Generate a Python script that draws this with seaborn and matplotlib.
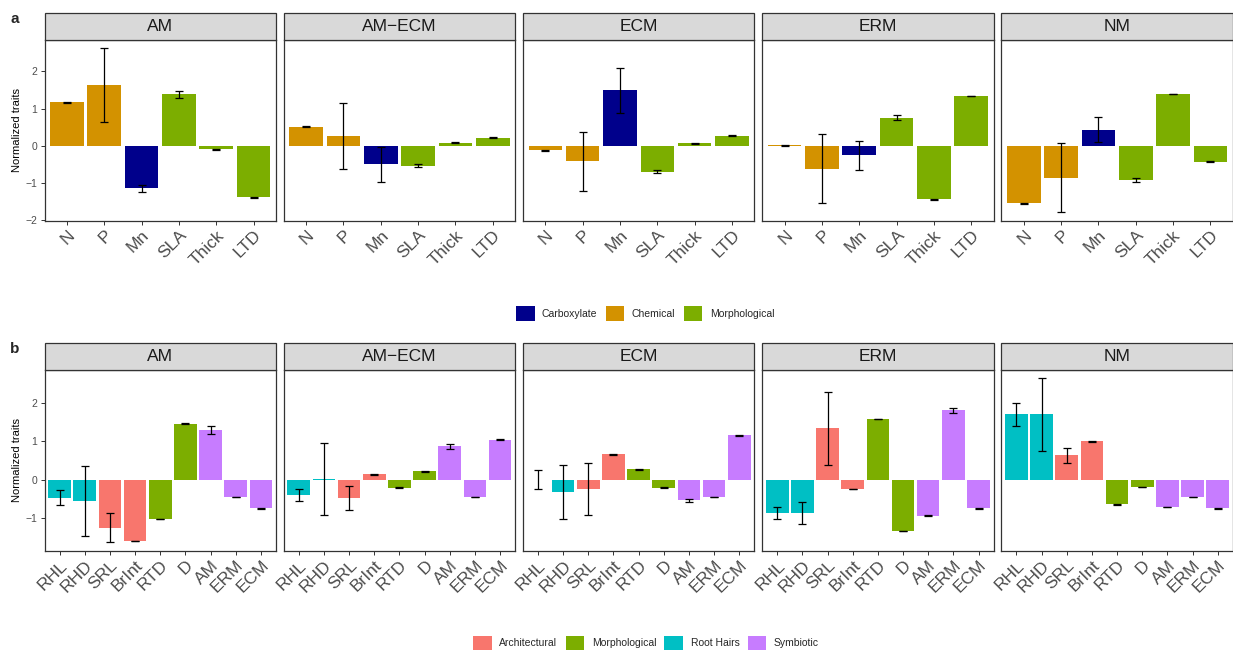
import numpy as np
import pandas as pd
import matplotlib
matplotlib.use("Agg")
import matplotlib.pyplot as plt
import seaborn as sns
from matplotlib.patches import Rectangle, Patch

# ---------------- data ----------------
panels = ["AM", "AM\u2212ECM", "ECM", "ERM", "NM"]

leaf_traits = ["N", "P", "Mn", "SLA", "Thick", "LTD"]
leaf_groups = ["Chemical", "Chemical", "Carboxylate", "Morphological", "Morphological", "Morphological"]
leaf_group_order = ["Carboxylate", "Chemical", "Morphological"]
leaf_colors = ["#00008B", "#D39200", "#7CAE00"]

leaf_AM = [1.17, 1.63, -1.14, 1.38, -0.09, -1.38]
leaf_AM_err = [0.01, 0.99, 0.09, 0.10, 0.01, 0.01]
leaf_AMECM = [0.51, 0.27, -0.50, -0.53, 0.08, 0.22]
leaf_AMECM_err = [0.01, 0.88, 0.47, 0.05, 0.01, 0.01]
leaf_ECM = [-0.12, -0.42, 1.49, -0.70, 0.07, 0.27]
leaf_ECM_err = [0.01, 0.80, 0.60, 0.04, 0.01, 0.01]
leaf_ERM = [0.01, -0.61, -0.26, 0.75, -1.44, 1.34]
leaf_ERM_err = [0.01, 0.92, 0.39, 0.07, 0.01, 0.01]
leaf_NM = [-1.54, -0.86, 0.43, -0.91, 1.39, -0.43]
leaf_NM_err = [0.01, 0.93, 0.34, 0.05, 0.01, 0.01]

root_traits = ["RHL", "RHD", "SRL", "BrInt", "RTD", "D", "AM", "ERM", "ECM"]
root_groups = ["Root Hairs", "Root Hairs", "Architectural", "Architectural", "Morphological",
               "Morphological", "Symbiotic", "Symbiotic", "Symbiotic"]
root_group_order = ["Architectural", "Morphological", "Root Hairs", "Symbiotic"]
root_colors = ["#F8766D", "#7CAE00", "#00BFC4", "#C77CFF"]

root_AM = [-0.47, -0.55, -1.25, -1.59, -1.02, 1.45, 1.28, -0.45, -0.74]
root_AM_err = [0.19, 0.90, 0.38, 0.01, 0.01, 0.01, 0.10, 0.01, 0.01]
root_AMECM = [-0.40, 0.01, -0.47, 0.14, -0.21, 0.22, 0.86, -0.45, 1.04]
root_AMECM_err = [0.15, 0.94, 0.31, 0.01, 0.01, 0.01, 0.07, 0.01, 0.01]
root_ECM = [0.00, -0.33, -0.24, 0.66, 0.27, -0.21, -0.53, -0.45, 1.15]
root_ECM_err = [0.24, 0.70, 0.67, 0.01, 0.01, 0.01, 0.04, 0.01, 0.01]
root_ERM = [-0.86, -0.86, 1.33, -0.24, 1.57, -1.33, -0.94, 1.80, -0.74]
root_ERM_err = [0.16, 0.28, 0.95, 0.01, 0.01, 0.01, 0.01, 0.07, 0.01]
root_NM = [1.69, 1.69, 0.63, 0.99, -0.64, -0.19, -0.71, -0.45, -0.74]
root_NM_err = [0.29, 0.94, 0.20, 0.01, 0.01, 0.01, 0.01, 0.01, 0.01]

leaf_vals = [leaf_AM, leaf_AMECM, leaf_ECM, leaf_ERM, leaf_NM]
leaf_errs = [leaf_AM_err, leaf_AMECM_err, leaf_ECM_err, leaf_ERM_err, leaf_NM_err]
root_vals = [root_AM, root_AMECM, root_ECM, root_ERM, root_NM]
root_errs = [root_AM_err, root_AMECM_err, root_ECM_err, root_ERM_err, root_NM_err]

# ---------------- style ----------------
sns.set_style("white")
plt.rcParams["font.family"] = ["Liberation Sans", "DejaVu Sans"]

W, H = 1233, 652
fig = plt.figure(figsize=(W / 100, H / 100), dpi=100)

GREY_TXT = "#4D4D4D"
BORDER = "#333333"
panel_lefts = [44.5 + i * 239.2 for i in range(5)]
panel_w = 231.5


def draw_row(top_px, bottom_px, strip_top_px, traits, groups, group_order, colors,
             vals_list, errs_list, yticks):
    pal = dict(zip(group_order, colors))
    lo = min(min(np.array(v) - np.array(e)) for v, e in zip(vals_list, errs_list))
    hi = max(max(np.array(v) + np.array(e)) for v, e in zip(vals_list, errs_list))
    pad = 0.05 * (hi - lo)
    ylim = (lo - pad, hi + pad)
    h_px = bottom_px - top_px
    strip_h = (top_px - strip_top_px) / h_px
    axes = []
    for i, (name, vals, errs) in enumerate(zip(panels, vals_list, errs_list)):
        ax = fig.add_axes([panel_lefts[i] / W, 1 - bottom_px / H, panel_w / W, h_px / H])
        df = pd.DataFrame({"trait": traits, "value": vals, "group": groups})
        sns.barplot(data=df, x="trait", y="value", hue="group", order=traits,
                    hue_order=group_order, palette=pal, dodge=False, width=0.9,
                    errorbar=None, legend=False, saturation=1, linewidth=0, ax=ax)
        ax.errorbar(np.arange(len(traits)), vals, yerr=errs, fmt="none",
                    ecolor="black", elinewidth=0.9, capsize=2.6, capthick=0.9, zorder=5)
        ax.set_xlim(-0.6, len(traits) - 0.4)
        ax.set_ylim(*ylim)
        ax.set_xlabel("")
        ax.set_ylabel("")
        for sp in ax.spines.values():
            sp.set_visible(True)
            sp.set_color(BORDER)
            sp.set_linewidth(0.9)
        ax.set_xticks(np.arange(len(traits)))
        ax.set_xticklabels(traits, rotation=45, ha="right", va="top",
                           rotation_mode="anchor", fontsize=12.5, color=GREY_TXT)
        ax.tick_params(axis="x", direction="out", length=3, width=0.7, color=BORDER,
                       pad=2, bottom=True)
        if i == 0:
            ax.set_yticks(yticks)
            ax.set_yticklabels([f"{t:d}".replace("-", "\u2212") for t in yticks],
                               fontsize=7.5, color=GREY_TXT)
            ax.tick_params(axis="y", direction="out", length=3, width=0.7,
                           color=BORDER, pad=2, left=True)
            ax.set_ylabel("Normalized traits", fontsize=8, color="black", labelpad=3)
        else:
            ax.set_yticks(yticks)
            ax.tick_params(axis="y", left=False, labelleft=False)
        # strip
        ax.add_patch(Rectangle((0, 1), 1, strip_h, transform=ax.transAxes,
                               facecolor="#D9D9D9", edgecolor=BORDER, linewidth=0.9,
                               clip_on=False, zorder=3))
        ax.text(0.5, 1 + strip_h / 2, name, transform=ax.transAxes, ha="center",
                va="center", fontsize=12.5, color="#1A1A1A", zorder=4)
        axes.append(ax)
    return axes


draw_row(40, 220.7, 12.7, leaf_traits, leaf_groups, leaf_group_order, leaf_colors,
         leaf_vals, leaf_errs, [-2, -1, 0, 1, 2])
draw_row(370, 550.7, 342.7, root_traits, root_groups, root_group_order, root_colors,
         root_vals, root_errs, [-1, 0, 1, 2])

fig.text(15 / W, 1 - 19 / H, "a", fontsize=11, fontweight="bold", ha="center", va="center")
fig.text(15 / W, 1 - 349 / H, "b", fontsize=11, fontweight="bold", ha="center", va="center")

leg_kw = dict(frameon=False, fontsize=7.5, handlelength=1.8, handleheight=1.8,
              handletextpad=0.7, columnspacing=0.8, borderpad=0, borderaxespad=0)
h1 = [Patch(facecolor=c, edgecolor="none", label=g) for g, c in zip(leaf_group_order, leaf_colors)]
fig.legend(handles=h1, loc="center", bbox_to_anchor=(645 / W, 1 - 313.5 / H),
           ncol=3, **leg_kw)
h2 = [Patch(facecolor=c, edgecolor="none", label=g) for g, c in zip(root_group_order, root_colors)]
fig.legend(handles=h2, loc="center", bbox_to_anchor=(646 / W, 1 - 643 / H),
           ncol=4, **leg_kw)

fig.savefig("out.png", dpi=100)
